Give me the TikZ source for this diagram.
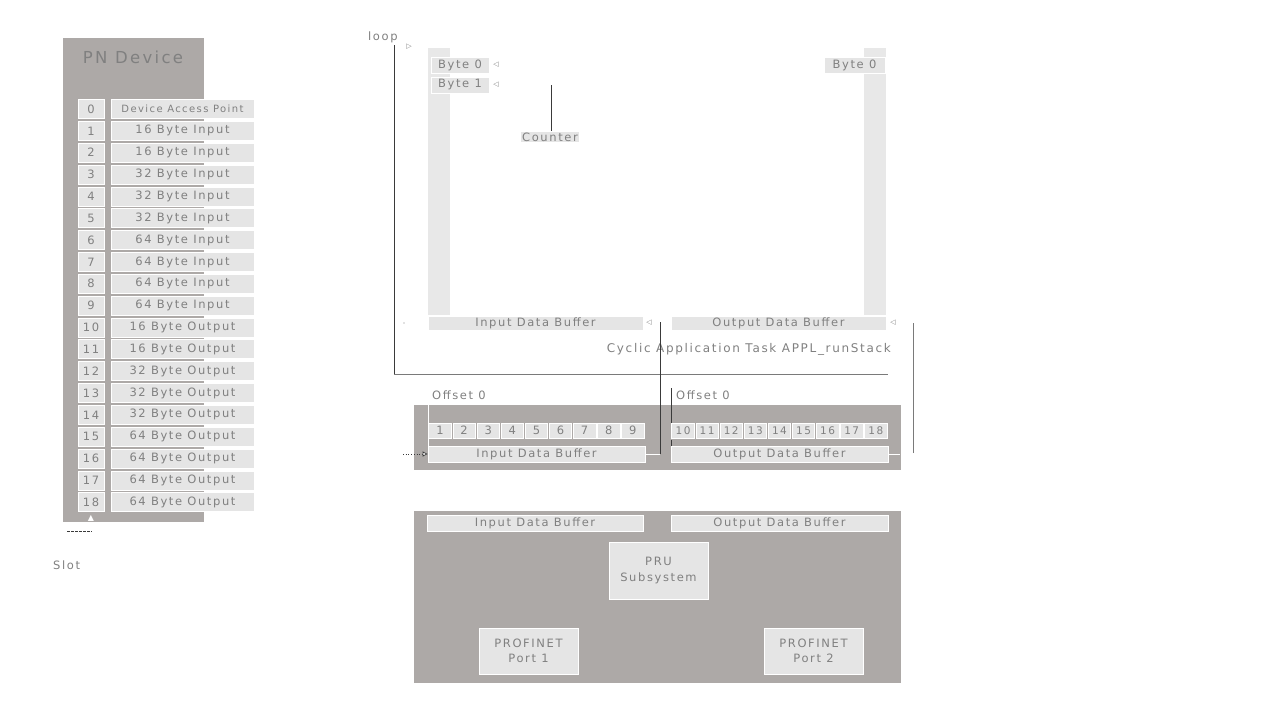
\documentclass[tikz,border=0pt]{standalone}
\usepackage{fontspec}
\setmainfont{DejaVu Sans}[LetterSpace=14]
\newfontfamily\symfont{DejaVu Sans}
\usetikzlibrary{arrows.meta}

\definecolor{panel}{HTML}{ADA9A7}
\definecolor{cellfill}{HTML}{E5E5E5}
\definecolor{txt}{HTML}{808080}
\definecolor{wire}{HTML}{3A3A3A}
\definecolor{wirelight}{HTML}{7A7A7A}

\newcommand\fsz[1]{\fontsize{#1}{#1}\selectfont}

\begin{document}
\begin{tikzpicture}[x=1pt,y=-1pt,
  panelbox/.style={fill=panel,draw=none},
  cell/.style={fill=cellfill,draw=white,line width=0.8pt,inner sep=0pt,
    text=txt,font=\fsz{11.5},anchor=center},
  barstrip/.style={fill=cellfill!90!white,draw=none},
  plain/.style={inner sep=0pt,text=txt,font=\fsz{11.5}},
  marker/.style={inner sep=0pt,text=txt,font=\symfont\fsz{7}},
  wireline/.style={draw=wire,line width=0.9pt},
  greyline/.style={draw=wirelight,line width=0.9pt},
]
\useasboundingbox (0,0) rectangle (1280,720);

% ---------------- PN device with its slots ----------------
\fill[panelbox] (63,38) rectangle (204,522);
\node[plain,font=\fsz{16.5}] (pntitle) at (133,57) {PN Device};

\node[cell,minimum width=26,minimum height=19] (n0) at (91,109) {0};
\node[cell,minimum width=143,minimum height=19,font=\fsz{10}] (d0) at (182.5,109) {Device Access Point};
\foreach \i/\t in {1/16 Byte Input,2/16 Byte Input,3/32 Byte Input,4/32 Byte Input,
  5/32 Byte Input,6/64 Byte Input,7/64 Byte Input,8/64 Byte Input,9/64 Byte Input,
  10/16 Byte Output,11/16 Byte Output,12/32 Byte Output,13/32 Byte Output,
  14/32 Byte Output,15/64 Byte Output,16/64 Byte Output,17/64 Byte Output,
  18/64 Byte Output}{
  \node[cell,minimum width=26,minimum height=19] (n\i) at (91,109+21.85*\i) {\i};
  \node[cell,minimum width=143,minimum height=19] (d\i) at (182.5,109+21.85*\i) {\t};
}
\node[marker,text=white,font=\symfont\fsz{8}] (slotmark) at (91,518) {▲};
\coordinate (dashA) at (67,531);
\coordinate (dashB) at (92,531);
\draw[wire,dash pattern=on 3pt off 1pt,line width=0.6pt] (dashA) -- (dashB);
\node[plain,anchor=west] (slotlbl) at (53,565) {Slot};

% ---------------- cyclic application task ----------------
\node[plain,anchor=west] (loop) at (368,37) {loop};
\node[marker] (looptri) at (409,47) {▷};
\coordinate (loopTop) at (394,45);
\coordinate (loopBot) at (394,374);
\coordinate (loopEnd) at (888,374);
\draw[wireline] (loopTop) -- (loopBot);
\draw[greyline] (loopBot) -- (loopEnd);

\fill[barstrip] (428,48) rectangle (450,315);
\fill[barstrip] (864,48) rectangle (886,315);

\node[cell,minimum width=58,minimum height=16] (b0) at (460,65) {Byte 0};
\node[cell,minimum width=58,minimum height=16] (b1) at (460,85) {Byte 1};
\node[marker] (b0tri) at (496,65) {◁};
\node[marker] (b1tri) at (496,85) {◁};
\node[cell,minimum width=61,minimum height=16] (bout) at (854.5,65) {Byte 0};

\node[plain,fill=cellfill,inner sep=1pt] (counter) at (550,137) {Counter};
\coordinate (counterTop) at (551,85);
\draw[draw=wire,line width=0.8pt] (counterTop) -- (counter.north -| counterTop);

\node[cell,minimum width=215,minimum height=14] (inTop) at (535.5,323) {Input Data Buffer};
\node[cell,minimum width=215,minimum height=14] (outTop) at (778.5,323) {Output Data Buffer};
\node[marker] (inTri) at (649,323) {◁};
\node[marker] (outTri) at (893,323) {◁};
\fill[txt] (404,323) circle (0.6);

\node[plain,anchor=east,font=\fsz{12}] (task) at (891,349) {Cyclic Application Task APPL\_runStack};

% ---------------- input / output data buffers ----------------
\node[plain,anchor=west] (offIn) at (432,395) {Offset 0};
\node[plain,anchor=west] (offOut) at (676,395) {Offset 0};

\fill[panelbox] (414,405) rectangle (901,470);
\draw[white,line width=0.8pt] (428,388) -- (428,446);
\draw[wireline] (671,388) -- (671,425);
\draw[wireline] (671,440) -- (671,446);

\foreach \k in {1,...,9}{
  \node[cell,minimum width=22.5,minimum height=15] (c\k) at (428+12.05+24.1*\k-24.1,430.5) {\k};
}
\foreach \k in {10,...,18}{
  \node[cell,minimum width=22.5,minimum height=15,font=\fsz{10.5}] (c\k) at (671+12.05+24.1*\k-241,430.5) {\k};
}
\node[cell,minimum width=217,minimum height=16] (inMid) at (536.5,454) {Input Data Buffer};
\node[cell,minimum width=217,minimum height=16] (outMid) at (779.5,454) {Output Data Buffer};

\coordinate (feedIn) at (403,454);
\draw[wire,dotted,line width=0.7pt,-{Triangle[open,fill=white,length=5pt,width=5pt]}] (feedIn) -- (inMid.west);

\coordinate (inRise) at (660,454);
\coordinate (inRiseTop) at (660,322);
\draw[draw=white,line width=0.8pt] (inMid.east) -- (inRise);
\draw[wireline] (inRise) -- (inRiseTop);

\coordinate (outStub) at (900,454);
\draw[draw=white,line width=0.8pt] (outMid.east) -- (outStub);
\coordinate (outRiseBot) at (913,453);
\coordinate (outRiseTop) at (913,323);
\draw[greyline] (outRiseBot) -- (outRiseTop);

% ---------------- PRU subsystem ----------------
\fill[panelbox] (414,511) rectangle (901,683);
\node[cell,minimum width=216,minimum height=16] (inLow) at (535,523) {Input Data Buffer};
\node[cell,minimum width=217,minimum height=16] (outLow) at (779.5,523) {Output Data Buffer};
\node[cell,minimum width=99,minimum height=57,align=center] (pru) at (658.5,570.5) {PRU\\[4pt]Subsystem};
\node[cell,minimum width=99,minimum height=46,align=center] (port1) at (528.5,651) {PROFINET\\[4pt]Port 1};
\node[cell,minimum width=99,minimum height=46,align=center] (port2) at (813.5,651) {PROFINET\\[4pt]Port 2};

\end{tikzpicture}
\end{document}
